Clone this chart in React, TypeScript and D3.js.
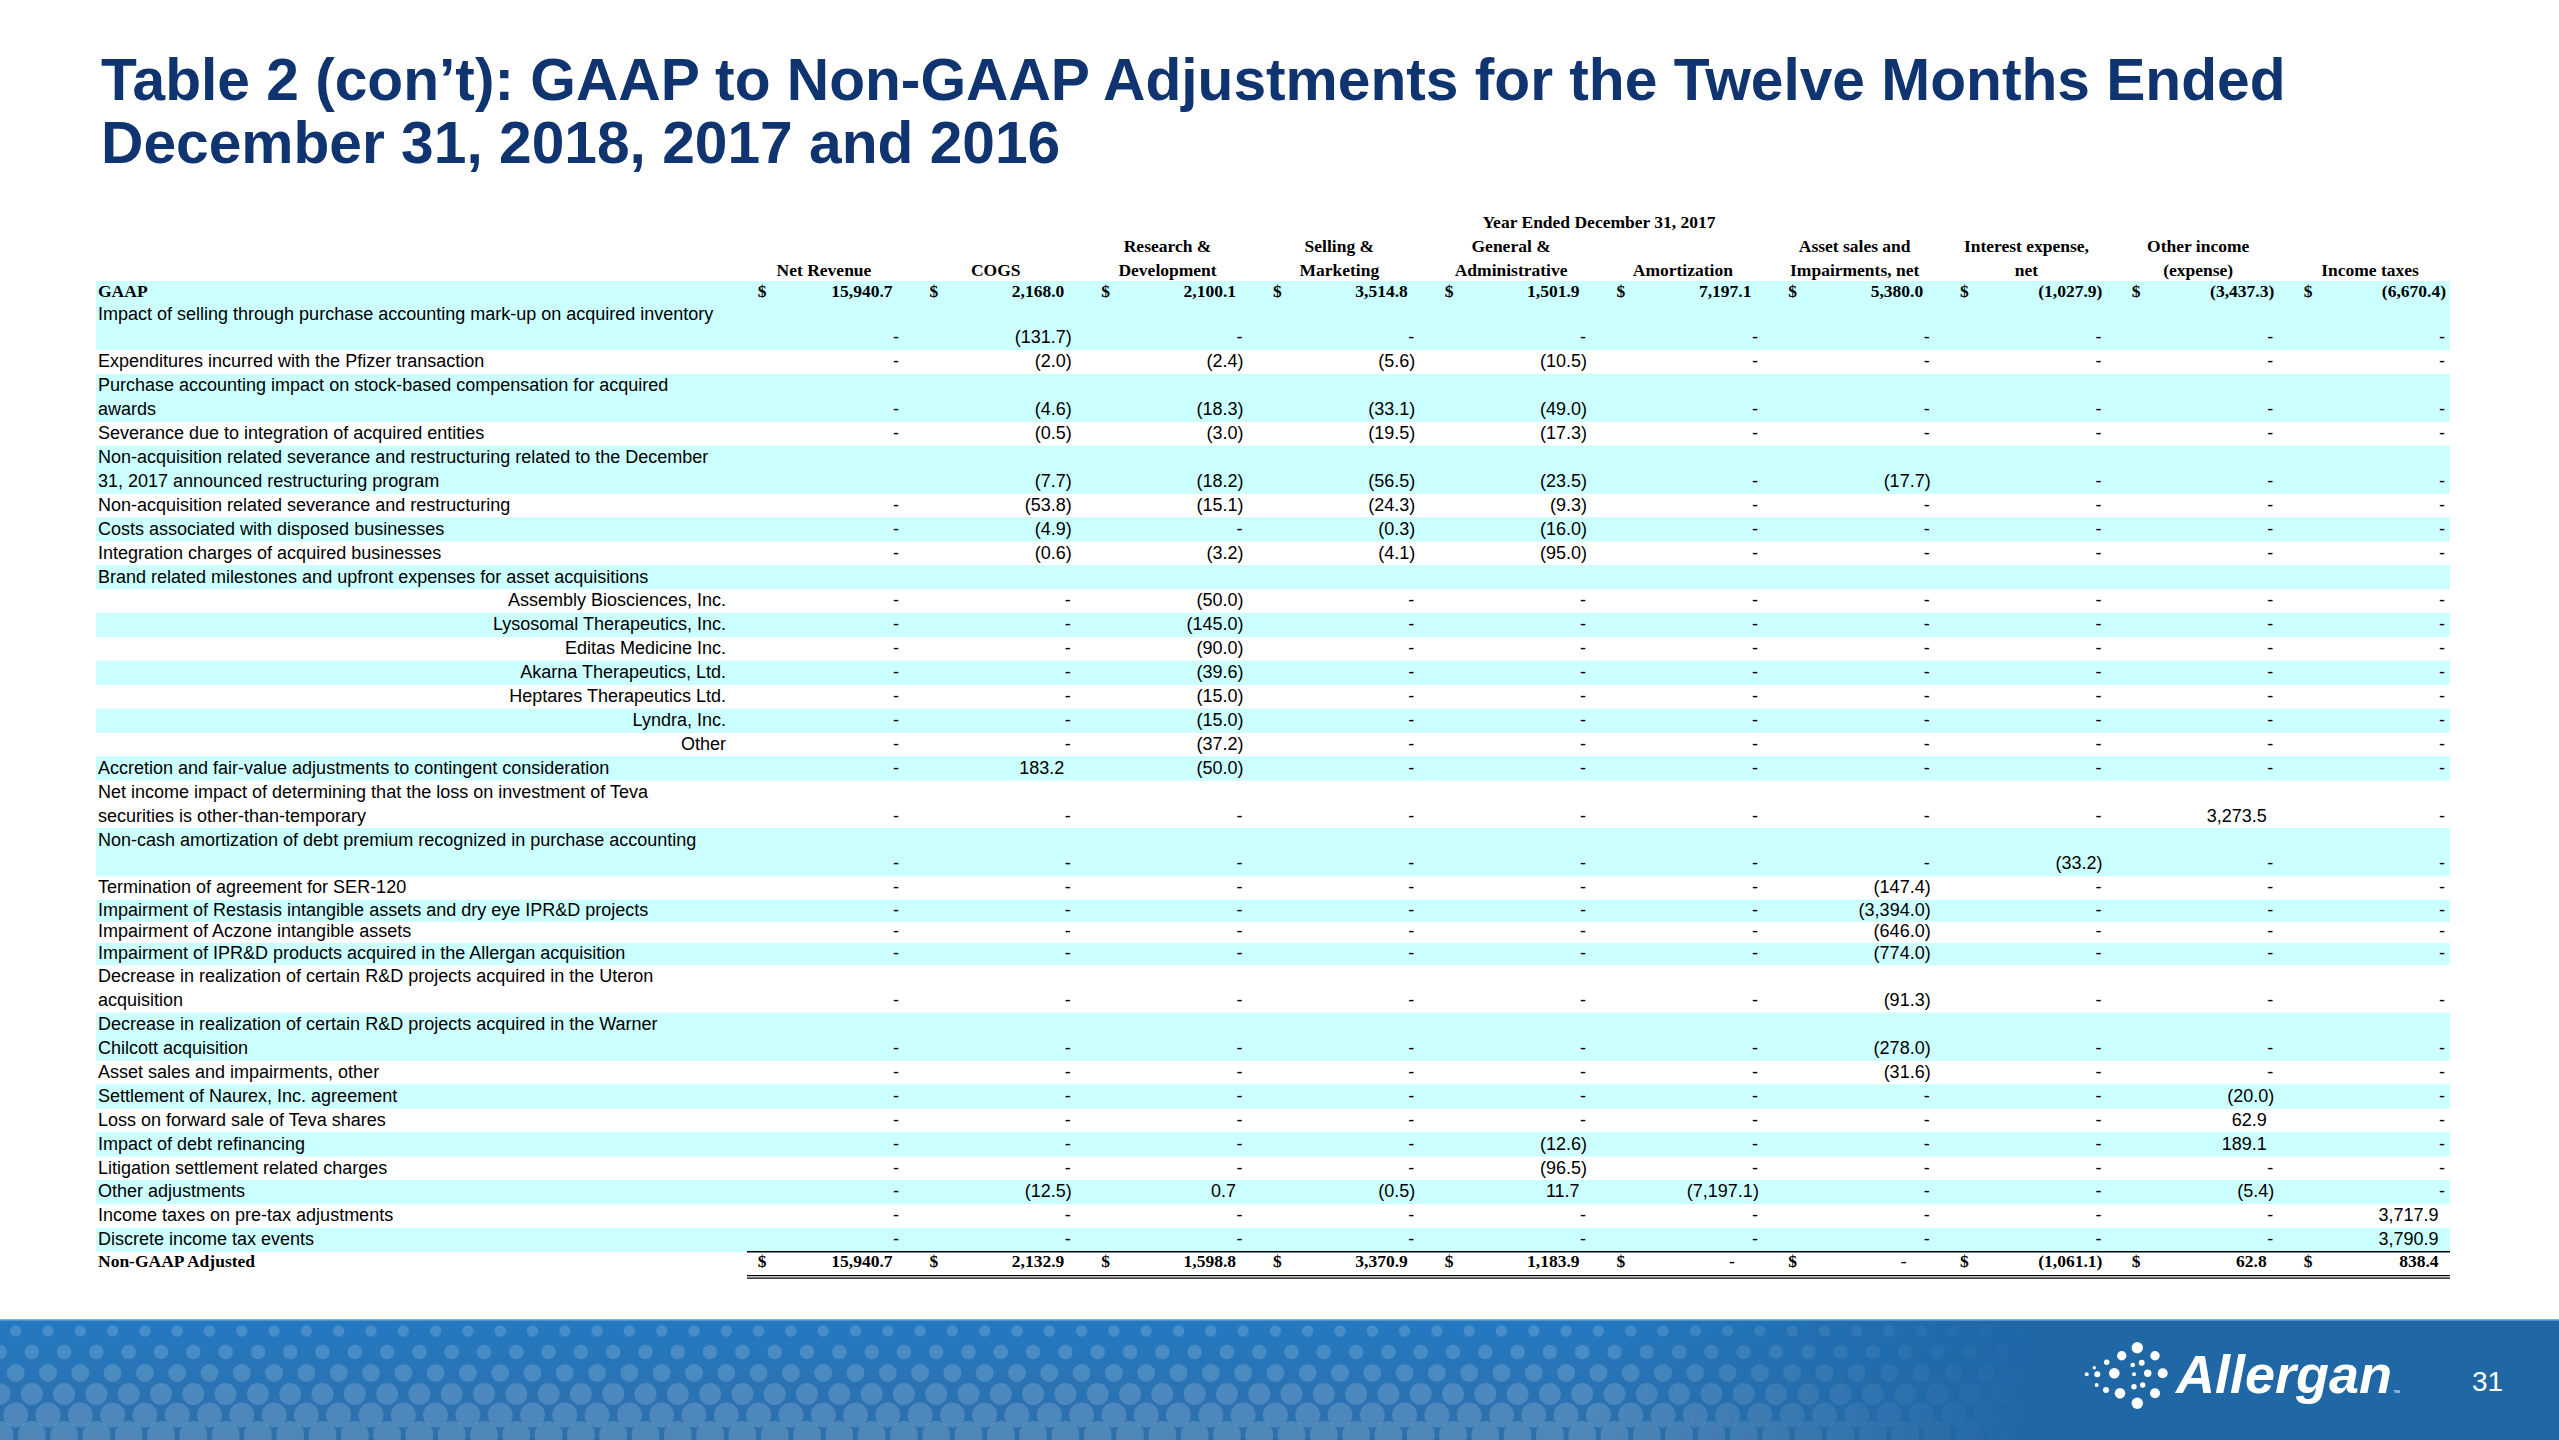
import React from "react";
import * as d3 from "d3";

const title1 = "Table 2 (con’t): GAAP to Non-GAAP Adjustments for the Twelve Months Ended";
const title2 = "December 31, 2018, 2017 and 2016";
const periodLabel = "Year Ended December 31, 2017";
const headerTop = ["", "", "Research &", "Selling &", "General &", "", "Asset sales and", "Interest expense,", "Other income", ""];
const headerBottom = ["Net Revenue", "COGS", "Development", "Marketing", "Administrative", "Amortization", "Impairments, net", "net", "(expense)", "Income taxes"];

const rowLabels = [
  "GAAP",
  "Impact of selling through purchase accounting mark-up on acquired inventory\n",
  "Expenditures incurred with the Pfizer transaction",
  "Purchase accounting impact on stock-based compensation for acquired\nawards",
  "Severance due to integration of acquired entities",
  "Non-acquisition related severance and restructuring related to the December\n31, 2017 announced restructuring program",
  "Non-acquisition related severance and restructuring",
  "Costs associated with disposed businesses",
  "Integration charges of acquired businesses",
  "Brand related milestones and upfront expenses for asset acquisitions",
  "Assembly Biosciences, Inc.",
  "Lysosomal Therapeutics, Inc.",
  "Editas Medicine Inc.",
  "Akarna Therapeutics, Ltd.",
  "Heptares Therapeutics Ltd.",
  "Lyndra, Inc.",
  "Other",
  "Accretion and fair-value adjustments to contingent consideration",
  "Net income impact of determining that the loss on investment of Teva\nsecurities is other-than-temporary",
  "Non-cash amortization of debt premium recognized in purchase accounting\n",
  "Termination of agreement for SER-120",
  "Impairment of Restasis intangible assets and dry eye IPR&D projects",
  "Impairment of Aczone intangible assets",
  "Impairment of IPR&D products acquired in the Allergan acquisition",
  "Decrease in realization of certain R&D projects acquired in the Uteron\nacquisition",
  "Decrease in realization of certain R&D projects acquired in the Warner\nChilcott acquisition",
  "Asset sales and impairments, other",
  "Settlement of Naurex, Inc. agreement",
  "Loss on forward sale of Teva shares",
  "Impact of debt refinancing",
  "Litigation settlement related charges",
  "Other adjustments",
  "Income taxes on pre-tax adjustments",
  "Discrete income tax events",
  "Non-GAAP Adjusted",
];

const rowKinds = [
  "total", "item", "item", "item", "item", "item", "item", "item", "item", "item",
  "sub", "sub", "sub", "sub", "sub", "sub", "sub",
  "item", "item", "item", "item", "item", "item", "item", "item", "item",
  "item", "item", "item", "item", "item", "item", "item", "item", "total",
];

const D = "-";
const rowValues = [
  ["15,940.7", "2,168.0", "2,100.1", "3,514.8", "1,501.9", "7,197.1", "5,380.0", "(1,027.9)", "(3,437.3)", "(6,670.4)"],
  [D, "(131.7)", D, D, D, D, D, D, D, D],
  [D, "(2.0)", "(2.4)", "(5.6)", "(10.5)", D, D, D, D, D],
  [D, "(4.6)", "(18.3)", "(33.1)", "(49.0)", D, D, D, D, D],
  [D, "(0.5)", "(3.0)", "(19.5)", "(17.3)", D, D, D, D, D],
  ["", "(7.7)", "(18.2)", "(56.5)", "(23.5)", D, "(17.7)", D, D, D],
  [D, "(53.8)", "(15.1)", "(24.3)", "(9.3)", D, D, D, D, D],
  [D, "(4.9)", D, "(0.3)", "(16.0)", D, D, D, D, D],
  [D, "(0.6)", "(3.2)", "(4.1)", "(95.0)", D, D, D, D, D],
  ["", "", "", "", "", "", "", "", "", ""],
  [D, D, "(50.0)", D, D, D, D, D, D, D],
  [D, D, "(145.0)", D, D, D, D, D, D, D],
  [D, D, "(90.0)", D, D, D, D, D, D, D],
  [D, D, "(39.6)", D, D, D, D, D, D, D],
  [D, D, "(15.0)", D, D, D, D, D, D, D],
  [D, D, "(15.0)", D, D, D, D, D, D, D],
  [D, D, "(37.2)", D, D, D, D, D, D, D],
  [D, "183.2", "(50.0)", D, D, D, D, D, D, D],
  [D, D, D, D, D, D, D, D, "3,273.5", D],
  [D, D, D, D, D, D, D, "(33.2)", D, D],
  [D, D, D, D, D, D, "(147.4)", D, D, D],
  [D, D, D, D, D, D, "(3,394.0)", D, D, D],
  [D, D, D, D, D, D, "(646.0)", D, D, D],
  [D, D, D, D, D, D, "(774.0)", D, D, D],
  [D, D, D, D, D, D, "(91.3)", D, D, D],
  [D, D, D, D, D, D, "(278.0)", D, D, D],
  [D, D, D, D, D, D, "(31.6)", D, D, D],
  [D, D, D, D, D, D, D, D, "(20.0)", D],
  [D, D, D, D, D, D, D, D, "62.9", D],
  [D, D, D, D, "(12.6)", D, D, D, "189.1", D],
  [D, D, D, D, "(96.5)", D, D, D, D, D],
  [D, "(12.5)", "0.7", "(0.5)", "11.7", "(7,197.1)", D, D, "(5.4)", D],
  [D, D, D, D, D, D, D, D, D, "3,717.9"],
  [D, D, D, D, D, D, D, D, D, "3,790.9"],
  ["15,940.7", "2,132.9", "1,598.8", "3,370.9", "1,183.9", D, D, "(1,061.1)", "62.8", "838.4"],
];

// ---------- layout ----------
const W = 2559;
const H = 1440;
const SANS = "'Liberation Sans', Arial, sans-serif";
const SERIF = "'Liberation Serif', 'Times New Roman', serif";
const NAVY = "#0F3470";
const CYAN = "#CCFFFF";
const FS = 18;
const FS_SERIF = 17.5;

const tableLeft = 96;
const tableRight = 2450;
const labelX = 98;
const subLabelRight = 726;
const tableTop = 281;
const unit = 23.91;
const denseRows = new Set([21, 22, 23]);

const logoDots = [
  [2137.3, 1347.7, 5.7], [2121.7, 1355.7, 4.7], [2155, 1355.7, 4.7], [2106.7, 1362.3, 2.7],
  [2141.7, 1362.7, 3], [2132.7, 1365, 2.3], [2094.3, 1367.7, 1.7], [2086.7, 1374.3, 2],
  [2097.3, 1374.3, 3], [2114.3, 1373.3, 5.3], [2134, 1374.3, 2], [2147.7, 1373.3, 3.7],
  [2162.7, 1373.3, 5], [2096.7, 1385, 2], [2106, 1390, 3], [2134, 1386.7, 2.7],
  [2142.7, 1385, 2.7], [2120, 1393.3, 5.3], [2155, 1393.3, 5], [2137.3, 1403.3, 5.7],
];

export default function App() {
  const x = d3.scalePoint<number>().domain(d3.range(10)).range([900, 2446]);

  const heights = rowLabels.map((l, i) => {
    if (i === 0) return 21;
    if (i === rowLabels.length - 1) return 24;
    if (denseRows.has(i)) return 21.67;
    return l.split("\n").length * unit;
  });
  const tops = [tableTop, ...Array.from(d3.cumsum(heights)).map((c) => tableTop + c)];
  const lastIdx = rowLabels.length - 1;

  const dotRows = [
    { y: 1331, r: 5.7, off: 15.7 },
    { y: 1352, r: 7.3, off: -0.5 },
    { y: 1373, r: 9, off: 15.7 },
    { y: 1394, r: 11, off: -0.5 },
    { y: 1415, r: 12.5, off: 15.7 },
    { y: 1435, r: 14, off: -0.5 },
  ];
  const dotStep = 32.3;
  const dotCols = d3.range(0, 66);

  const renderCell = (v: string, col: number, rowIdx: number, baseline: number, bold: boolean) => {
    if (!v) return null;
    const right = x(col)!;
    const family = bold ? SERIF : SANS;
    const weight = bold ? "bold" : "normal";
    let xx = right;
    let anchor: "end" | "middle" = "end";
    if (v === "-") {
      if (bold) {
        xx = right - 27;
        anchor = "middle";
      } else {
        xx = right - 1;
      }
    } else if (!v.startsWith("(")) {
      xx = right - 7.5;
    }
    return (
      <text key={`c${rowIdx}-${col}`} x={xx} y={baseline} textAnchor={anchor}
        fontFamily={family} fontWeight={weight} fontSize={bold ? FS_SERIF : FS} fill="#000">
        {v}
      </text>
    );
  };

  return (
    <div style={{ position: "absolute", left: 0, top: 0 }}>
      <svg width={W} height={H} viewBox={`0 0 ${W} ${H}`} style={{ display: "block", background: "#fff" }}>
        <defs>
          <linearGradient id="bandV" x1="0" y1="0" x2="0" y2="1">
            <stop offset="0" stopColor="#2479C1" />
            <stop offset="1" stopColor="#2E6FAA" />
          </linearGradient>
          <linearGradient id="bandFade" gradientUnits="userSpaceOnUse" x1="0" y1="0" x2={W} y2="0">
            <stop offset="0" stopColor="#fff" stopOpacity="1" />
            <stop offset="0.62" stopColor="#fff" stopOpacity="1" />
            <stop offset="0.8" stopColor="#fff" stopOpacity="0" />
            <stop offset="1" stopColor="#fff" stopOpacity="0" />
          </linearGradient>
          <mask id="fadeMask" maskUnits="userSpaceOnUse" x="0" y="0" width={W} height={H}>
            <rect x={0} y={1318} width={W} height={122} fill="url(#bandFade)" />
          </mask>
        </defs>

        {/* Title */}
        <text x={101} y={100} fontFamily={SANS} fontWeight="bold" fontSize={58.7} fill={NAVY}>{title1}</text>
        <text x={101} y={163} fontFamily={SANS} fontWeight="bold" fontSize={58.7} fill={NAVY}>{title2}</text>

        {/* Row backgrounds */}
        {rowLabels.map((_, i) => {
          const cyan = i === 0 || (i % 2 === 1 && i !== lastIdx);
          return cyan ? (
            <rect key={`bg${i}`} x={tableLeft} y={tops[i]} width={tableRight - tableLeft} height={heights[i] + 0.5} fill={CYAN} />
          ) : null;
        })}

        {/* Header */}
        <text x={1599} y={228} textAnchor="middle" fontFamily={SERIF} fontWeight="bold" fontSize={FS_SERIF}>{periodLabel}</text>
        {headerTop.map((h, i) => h ? (
          <text key={`ht${i}`} x={x(i)! - 76} y={252} textAnchor="middle" fontFamily={SERIF} fontWeight="bold" fontSize={FS_SERIF}>{h}</text>
        ) : null)}
        {headerBottom.map((h, i) => (
          <text key={`hb${i}`} x={x(i)! - 76} y={276} textAnchor="middle" fontFamily={SERIF} fontWeight="bold" fontSize={FS_SERIF}>{h}</text>
        ))}

        {/* Rows */}
        {rowLabels.map((label, i) => {
          const kind = rowKinds[i];
          const bold = kind === "total";
          const lines = label.split("\n");
          const top = tops[i];
          const firstBase = bold ? top + 15.5 : top + 17.5;
          const lastBase = firstBase + (lines.length - 1) * unit;
          const valueBase = denseRows.has(i) ? top + 16 : lastBase;
          return (
            <g key={`r${i}`}>
              {lines.map((ln, j) => ln ? (
                <text key={j}
                  x={kind === "sub" ? subLabelRight : labelX}
                  y={(denseRows.has(i) ? top + 16 : firstBase + j * unit)}
                  textAnchor={kind === "sub" ? "end" : "start"}
                  fontFamily={bold ? SERIF : SANS} fontWeight={bold ? "bold" : "normal"} fontSize={bold ? FS_SERIF : FS} fill="#000">
                  {ln}
                </text>
              ) : null)}
              {bold && rowValues[i].map((_, c) => (
                <text key={`d${c}`} x={x(c)! - 138} y={valueBase} textAnchor="middle"
                  fontFamily={SERIF} fontWeight="bold" fontSize={FS_SERIF}>$</text>
              ))}
              {rowValues[i].map((v, c) => renderCell(v, c, i, valueBase, bold))}
            </g>
          );
        })}

        {/* Total rules */}
        <line x1={747} x2={tableRight} y1={tops[lastIdx]} y2={tops[lastIdx]} stroke="#000" strokeWidth={1.5} />
        <line x1={747} x2={tableRight} y1={tops[lastIdx] + 24} y2={tops[lastIdx] + 24} stroke="#000" strokeWidth={1.2} />
        <line x1={747} x2={tableRight} y1={tops[lastIdx] + 26.5} y2={tops[lastIdx] + 26.5} stroke="#000" strokeWidth={1.2} />

        {/* Footer band */}
        <rect x={0} y={1320} width={W} height={120} fill="#1F67A5" />
        <rect x={0} y={1320} width={W} height={120} fill="url(#bandV)" mask="url(#fadeMask)" />
        <rect x={0} y={1319} width={W} height={2} fill="#5E9AD0" opacity={0.8} />
        <g mask="url(#fadeMask)">
          {dotRows.map((row, ri) => dotCols.map((c) => (
            <circle key={`fd${ri}-${c}`} cx={row.off + c * dotStep} cy={row.y} r={row.r} fill="#ffffff" fillOpacity={0.16} />
          )))}
        </g>

        {/* Logo */}
        {logoDots.map(([cx, cy, r], i) => (
          <circle key={`ld${i}`} cx={cx} cy={cy} r={r} fill="#fff" />
        ))}
        <text x={2176} y={1393} fontFamily={SANS} fontWeight="bold" fontStyle="italic" fontSize={54} fill="#fff">Allergan</text>
        <text x={2393} y={1395} fontFamily={SANS} fontSize={7} fill="#fff">™</text>
        <text x={2472} y={1391} fontFamily={SANS} fontSize={28} fill="#fff">31</text>
      </svg>
    </div>
  );
}
